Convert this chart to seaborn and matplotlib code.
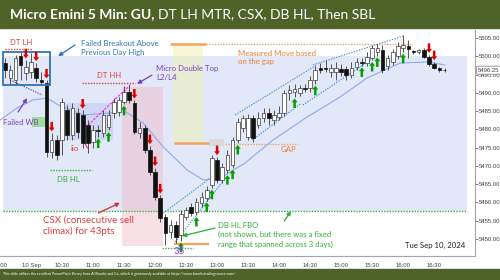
import matplotlib
matplotlib.use('Agg')
import matplotlib.pyplot as plt
import seaborn as sns
import numpy as np
import pandas as pd
from matplotlib.patches import Rectangle

sns.set_style('white')
plt.rcParams['font.family'] = ['Lato', 'DejaVu Sans']

# ---------------- data ----------------
opens = [
    5498.25, 5494.0, 5493.5, 5500.0, 5495.5, 5495.75, 5496.75, 5493.5, 5492.75, 5473.75,
    5477.0, 5477.0, 5485.25, 5478.5, 5484.5, 5484.0, 5481.25, 5476.5, 5479.75, 5479.0,
    5480.75, 5484.5, 5484.75, 5487.5, 5490.25, 5487.25, 5479.0, 5480.5, 5474.5, 5468.25,
    5461.25, 5456.0, 5452.0, 5453.75, 5451.0, 5456.0, 5458.75, 5457.5, 5459.75, 5461.25,
    5464.75, 5471.75, 5466.25, 5469.0, 5470.25, 5477.0, 5480.5, 5478.0, 5483.25, 5481.25,
    5483.25, 5484.5, 5482.5, 5483.5, 5484.5, 5490.0, 5490.25, 5490.0, 5491.25, 5491.25,
    5493.5, 5496.75, 5496.75, 5495.75, 5495.75, 5496.5, 5496.5, 5495.0, 5497.0, 5498.5,
    5498.25, 5499.5, 5501.25, 5501.75, 5497.5, 5498.5, 5500.25, 5502.25, 5503.0, 5501.25,
    5501.25, 5501.75, 5499.75, 5498.0, 5496.75, 5496.25]
highs = [
    5499.5, 5497.75, 5500.5, 5501.25, 5499.0, 5501.0, 5498.25, 5495.75, 5493.5, 5479.0,
    5478.5, 5488.5, 5486.75, 5487.25, 5486.0, 5485.25, 5482.5, 5481.25, 5481.25, 5485.25,
    5485.25, 5488.5, 5489.0, 5492.0, 5492.25, 5488.0, 5482.0, 5481.25, 5475.5, 5469.5,
    5462.0, 5456.75, 5455.25, 5455.0, 5458.0, 5458.75, 5459.75, 5461.25, 5462.75, 5464.5,
    5473.0, 5472.5, 5470.75, 5474.5, 5478.0, 5483.25, 5484.0, 5484.25, 5484.0, 5484.75,
    5486.0, 5486.0, 5485.25, 5486.5, 5490.75, 5492.25, 5492.5, 5492.25, 5492.5, 5494.75,
    5497.5, 5498.25, 5499.0, 5498.0, 5498.5, 5498.0, 5497.5, 5498.5, 5499.5, 5499.5,
    5501.25, 5503.25, 5503.5, 5503.25, 5500.5, 5502.0, 5504.0, 5506.0, 5504.5, 5501.75,
    5502.0, 5502.25, 5500.5, 5498.5, 5497.0, 5496.75]
lows = [
    5494.0, 5492.25, 5492.5, 5493.5, 5493.5, 5494.0, 5493.0, 5492.25, 5472.5, 5472.25,
    5471.75, 5473.0, 5477.0, 5477.0, 5477.75, 5475.0, 5473.5, 5475.0, 5478.0, 5478.0,
    5479.75, 5483.25, 5483.75, 5487.0, 5487.25, 5478.75, 5477.75, 5473.5, 5467.5, 5460.75,
    5454.75, 5448.25, 5450.25, 5449.0, 5449.5, 5455.25, 5456.25, 5456.5, 5458.75, 5460.5,
    5464.0, 5465.25, 5465.25, 5468.0, 5469.5, 5476.25, 5479.25, 5477.0, 5476.5, 5480.5,
    5482.0, 5481.25, 5481.25, 5482.5, 5483.75, 5488.0, 5489.0, 5489.25, 5490.25, 5490.25,
    5492.5, 5495.5, 5495.75, 5494.5, 5493.5, 5494.75, 5493.5, 5494.0, 5496.25, 5497.5,
    5497.5, 5499.0, 5500.25, 5495.5, 5496.25, 5497.75, 5499.25, 5501.25, 5499.5, 5500.75,
    5500.75, 5499.5, 5497.5, 5496.5, 5495.75, 5495.75]
closes = [
    5496.25, 5496.25, 5499.5, 5497.75, 5497.0, 5498.5, 5494.0, 5493.0, 5473.75, 5477.0,
    5473.0, 5487.5, 5478.5, 5486.0, 5479.25, 5476.25, 5476.25, 5479.75, 5479.5, 5484.0,
    5484.0, 5487.5, 5488.0, 5490.25, 5488.0, 5479.25, 5480.5, 5474.5, 5468.25, 5461.5,
    5455.75, 5451.75, 5453.75, 5450.5, 5456.75, 5458.0, 5457.0, 5460.25, 5461.5, 5463.5,
    5472.25, 5466.25, 5469.75, 5473.0, 5477.0, 5482.0, 5483.25, 5483.25, 5477.75, 5483.25,
    5484.5, 5483.25, 5484.0, 5484.5, 5490.0, 5490.75, 5491.0, 5491.25, 5491.0, 5493.5,
    5496.25, 5496.25, 5496.5, 5496.75, 5496.75, 5495.75, 5495.0, 5496.75, 5498.5, 5498.25,
    5499.75, 5502.25, 5502.25, 5496.25, 5499.5, 5501.25, 5502.75, 5503.25, 5502.0, 5501.25,
    5501.75, 5499.75, 5498.0, 5496.75, 5496.25, 5496.25]

ema_pos = [-0.97, 2.3, 5.4, 8.1, 10.3, 15.1, 20.3, 22.8, 26.7, 30.6, 35.2, 38.3,
           41.6, 46.4, 51.8, 58.4, 64.8, 70.0, 76.4, 81.6, 85.1]
ema_vals = [5482.6, 5485.9, 5488.1, 5488.6, 5486.7, 5484.0, 5484.5, 5485.3, 5481.8,
            5475.2, 5468.9, 5466.2, 5466.7, 5470.8, 5477.1, 5483.4, 5488.9, 5494.1,
            5498.2, 5498.5, 5497.7]

red_arrow_bars = [4, 6, 8, 9, 15, 25, 28, 29, 30, 41, 82, 83]
green_arrow_bars = [18, 20, 23, 34, 37, 39, 40, 43, 44, 45, 56, 60, 69, 71, 72, 77]

tick_pos = [-1, 5, 11, 17, 23, 29, 35, 41, 47, 53, 59, 65, 71, 77, 83]
tick_labels = ["16:00", "10 Sep", "10:30", "11:00", "11:30", "12:00", "12:30", "13:00",
               "13:30", "14:00", "14:30", "15:00", "15:30", "16:00", "16:30"]
ytick_vals = [5450, 5455, 5460, 5465, 5470, 5475, 5480, 5485, 5490, 5495, 5500, 5505]

prev_day_high = 5500.0
prev_day_low = 5457.75
last_price = 5496.25
date_label = "Tue Sep 10, 2024"
title_bold = "Micro Emini 5 Min: GU,"
title_rest = "DT LH MTR, CSX, DB HL, Then SBL"
footer = ("This slide utilizes the excellent PowerPoint library from Al Brooks and Co, "
          "which is generously available at https://www.brookstradingcourse.com/.")

# ---------------- figure ----------------
W, H = 500, 280
fig = plt.figure(figsize=(W / 100, H / 100), dpi=100)
fig.patch.set_facecolor('white')
ax = fig.add_axes([0, 24 / H, 475 / W, 226 / H])
ax.set_facecolor('white')
ax.set_xlim(-0.97, 90.9)
ax.set_ylim(5445.34, 5507.26)

OLIVE = '#4F6228'
RED = '#e23b3b'
GREEN = '#2fae3a'
PURPLE = '#7b3fbf'
BLUE = '#2e75b6'
ORANGE = '#ED7D31'

# background zones
ax.add_patch(Rectangle((-0.39, prev_day_low), 89.8, prev_day_high - prev_day_low,
                       color='#e2e8f7', zorder=0.5, lw=0))
ax.add_patch(Rectangle((10.6, 5477.0), 10.3, 10.25, color='#c8d0f0', alpha=0.75,
                       zorder=0.6, lw=0))
ax.add_patch(Rectangle((22.6, 5448.1), 8.0, 43.5, color='#f0b8c8', alpha=0.45,
                       zorder=0.7, lw=0))
ax.add_patch(Rectangle((32.5, 5476.3), 5.8, 26.85, color='#eef0b0', alpha=0.5,
                       zorder=0.7, lw=0))
ax.add_patch(Rectangle((5.2, 5480.7), 2.9, 2.7, color='#9ddc9d', zorder=0.8, lw=0))
ax.add_patch(Rectangle((39.5, 5475.5), 2.8, 1.9, color='#d9d9d9', zorder=0.8, lw=0))
ax.add_patch(Rectangle((-0.39, 5492.2), 9.1, 9.0, fill=False, ec=BLUE, lw=1.3,
                       zorder=5))

# horizontal reference lines
dot = (0, (1, 1))
ax.hlines(prev_day_low, -0.39, 89.4, colors='#3cb043', lw=1.0, linestyles=dot, zorder=1)
ax.hlines(5502.05, 0, 5.2, colors=RED, lw=1.0, linestyles=dot, zorder=2)
ax.hlines(5492.75, 14.9, 25.1, colors=RED, lw=1.0, linestyles=dot, zorder=2)
ax.hlines(5468.9, 8.7, 16.8, colors='#3cb043', lw=1.0, linestyles=dot, zorder=2)
ax.hlines(5447.5, 30.4, 36.4, colors='#3cb043', lw=1.0, linestyles=dot, zorder=2)
ax.hlines(5503.3, 31.9, 38.9, colors='#f4a460', lw=1.8, zorder=2)
ax.hlines(5503.3, 38.9, 78.7, colors='#f4a460', lw=1.0, linestyles=dot, zorder=2)
ax.hlines(5476.3, 32.7, 39.5, colors='#f4a460', lw=1.8, zorder=2)
ax.hlines(5476.0, 42.5, 56.7, colors='#f4a460', lw=1.0, linestyles=dot, zorder=2)
ax.hlines(5448.6, 32.7, 39.5, colors='#f4a460', lw=1.6, zorder=2)

# EMA
sns.lineplot(x=ema_pos, y=ema_vals, ax=ax, color='#8eaaf0', lw=0.8, zorder=2.2)

# channel lines
chan = [((30.6, 5457.1), (40.0, 5467.0)), ((32.9, 5449.2), (42.0, 5465.6)),
        ((44.5, 5484.0), (60.3, 5497.7)), ((47.8, 5477.1), (57.1, 5487.0)),
        ((59.6, 5497.7), (77.0, 5505.6)), ((57.6, 5486.7), (71.6, 5499.9))]
for (x0, y0), (x1, y1) in chan:
    ax.plot([x0, x1], [y0, y1], color='#3d8fd8', lw=0.8, ls=(0, (1.2, 1.2)), zorder=2.4)

# other annotation lines
ax.plot([16.05, 24.2], [5481.23, 5492.19], color='#ff33ff', lw=0.9, ls=(0, (2, 1)), zorder=2.5)
ax.plot([0.97, 7.16], [5493.56, 5489.45], color=PURPLE, lw=0.9, ls=dot, zorder=2.5)
ax.plot([14.9, 15.9], [5477.9, 5474.9], color=RED, lw=0.8, zorder=2.5)

def arrow(p0, p1, color, lw=0.9):
    ax.annotate('', xy=p1, xytext=p0,
                arrowprops=dict(arrowstyle='-|>', color=color, lw=lw,
                                mutation_scale=6, shrinkA=0, shrinkB=0), zorder=6)

arrow((2.5, 5484.8), (4.26, 5488.6), PURPLE)
arrow((28.4, 5494.9), (25.5, 5492.5), PURPLE)
arrow((13.5, 5503.15), (10.25, 5500.1), BLUE)
arrow((18.0, 5457.1), (22.2, 5459.9), '#d03030')
arrow((40.6, 5453.0), (34.2, 5450.8), GREEN)
arrow((54.0, 5454.9), (55.3, 5457.7), GREEN)

# candles
df = pd.DataFrame({'o': opens, 'h': highs, 'l': lows, 'c': closes})
df['k'] = np.arange(len(df))
df['bot'] = df[['o', 'c']].min(axis=1)
df['hgt'] = (df['c'] - df['o']).abs().clip(lower=0.15)
up = df['c'] > df['o']
ax.vlines(df['k'], df['l'], df['h'], color='#3a3a3a', lw=0.6, zorder=3)
ax.bar(df['k'][up], df['hgt'][up], bottom=df['bot'][up], width=0.7,
       color='white', edgecolor='#3a3a3a', lw=0.5, zorder=4)
ax.bar(df['k'][~up], df['hgt'][~up], bottom=df['bot'][~up], width=0.7,
       color='#111111', edgecolor='#111111', lw=0.5, zorder=4)

# signal arrows
sig = dict(arrowstyle='simple,head_length=0.9,head_width=1.4,tail_width=0.6',
           mutation_scale=3, shrinkA=0, shrinkB=0, lw=0)
for k in red_arrow_bars:
    tip = highs[k] + 0.5
    ax.annotate('', xy=(k, tip), xytext=(k, tip + 2.6),
                arrowprops=dict(color='#e00000', **sig), zorder=6)
for k in green_arrow_bars:
    tip = lows[k] - 0.5
    ax.annotate('', xy=(k, tip), xytext=(k, tip - 2.6),
                arrowprops=dict(color='#00a000', **sig), zorder=6)

# texts
fs = 5.6
ax.text(0.97, 5503.97, 'DT LH', color=RED, fontsize=fs, va='center', zorder=7)
ax.text(14.7, 5502.3, 'Failed Breakout Above\nPrevious Day High', color=BLUE, fontsize=fs,
        va='center', linespacing=1.25, zorder=7)
ax.text(17.8, 5494.66, 'DT HH', color=RED, fontsize=fs, va='center', zorder=7)
ax.text(29.2, 5495.5, 'Micro Double Top\nL2/L4', color=PURPLE, fontsize=fs, va='center',
        linespacing=1.2, zorder=7)
ax.text(-0.39, 5482.05, 'Failed WB', color=PURPLE, fontsize=fs, va='center', zorder=7)
ax.text(12.57, 5474.9, 'iio', color=RED, fontsize=fs, va='center', zorder=7)
ax.text(10.06, 5466.4, 'DB HL', color=GREEN, fontsize=fs, va='center', zorder=7)
ax.text(7.35, 5453.56, 'CSX (consecutive sell\nclimax) for 43pts', color=RED, fontsize=7,
        va='center', linespacing=1.25, zorder=7)
ax.text(32.5, 5446.6, '35', color='#9b30ff', fontsize=7, va='center', zorder=7)
ax.text(41.2, 5451.1, 'DB HL FBO\n(not shown, but there was a fixed\nrange that spanned across 3 days)',
        color=GREEN, fontsize=fs, va='center', linespacing=1.35, zorder=7)
ax.text(45.07, 5499.7, 'Measured Move based\non the gap', color=ORANGE, fontsize=fs,
        va='center', linespacing=1.3, zorder=7)
ax.text(53.2, 5474.4, 'GAP', color=ORANGE, fontsize=fs, va='center', zorder=7)
ax.text(77.4, 5448.36, date_label, color='#222222', fontsize=5.6, va='center', zorder=7)

# axes styling
for s in ['left', 'top']:
    ax.spines[s].set_visible(False)
for s in ['right', 'bottom']:
    ax.spines[s].set_color('#a6a6a6')
    ax.spines[s].set_linewidth(0.8)
ax.yaxis.tick_right()
ax.set_yticks(ytick_vals)
ax.set_yticklabels([f'{v:.2f}' for v in ytick_vals])
ax.set_xticks(tick_pos)
ax.set_xticklabels(tick_labels)
ax.tick_params(axis='y', direction='out', length=2, width=0.5, pad=1,
               labelsize=4.3, colors='#404040', labelfontfamily='Liberation Sans')
ax.tick_params(axis='x', direction='out', length=2, width=0.5, pad=3,
               labelsize=4.3, colors='#404040', labelfontfamily='Liberation Sans')
ax.set_xlabel('')
ax.set_ylabel('')

ax.annotate(f'{last_price:.2f}', xy=(1.006, last_price), xycoords=('axes fraction', 'data'),
            ha='left', va='center', fontsize=4.3, color='#404040', family='Liberation Sans',
            bbox=dict(boxstyle='round,pad=0.25', fc='white', ec='#8c8c8c', lw=0.6),
            annotation_clip=False, zorder=10)

# title and footer bars
fig.add_artist(Rectangle((0, 1 - 28 / H), 1, 28 / H, transform=fig.transFigure,
                         color=OLIVE, zorder=0))
fig.add_artist(Rectangle((0, 0), 1, 11 / H, transform=fig.transFigure,
                         color=OLIVE, zorder=0))
t1 = fig.text(10 / W, 1 - 14 / H, title_bold, color='white', fontsize=10,
              fontweight='bold', va='center', ha='left')
fig.canvas.draw()
bb = t1.get_window_extent()
fig.text((bb.x1 + 4) / W, 1 - 14 / H, title_rest, color='white', fontsize=10,
         va='center', ha='left')
fig.text(3 / W, 5.5 / H, footer, color='white', fontsize=2.6, va='center', ha='left')

fig.savefig('out.png', dpi=100)
